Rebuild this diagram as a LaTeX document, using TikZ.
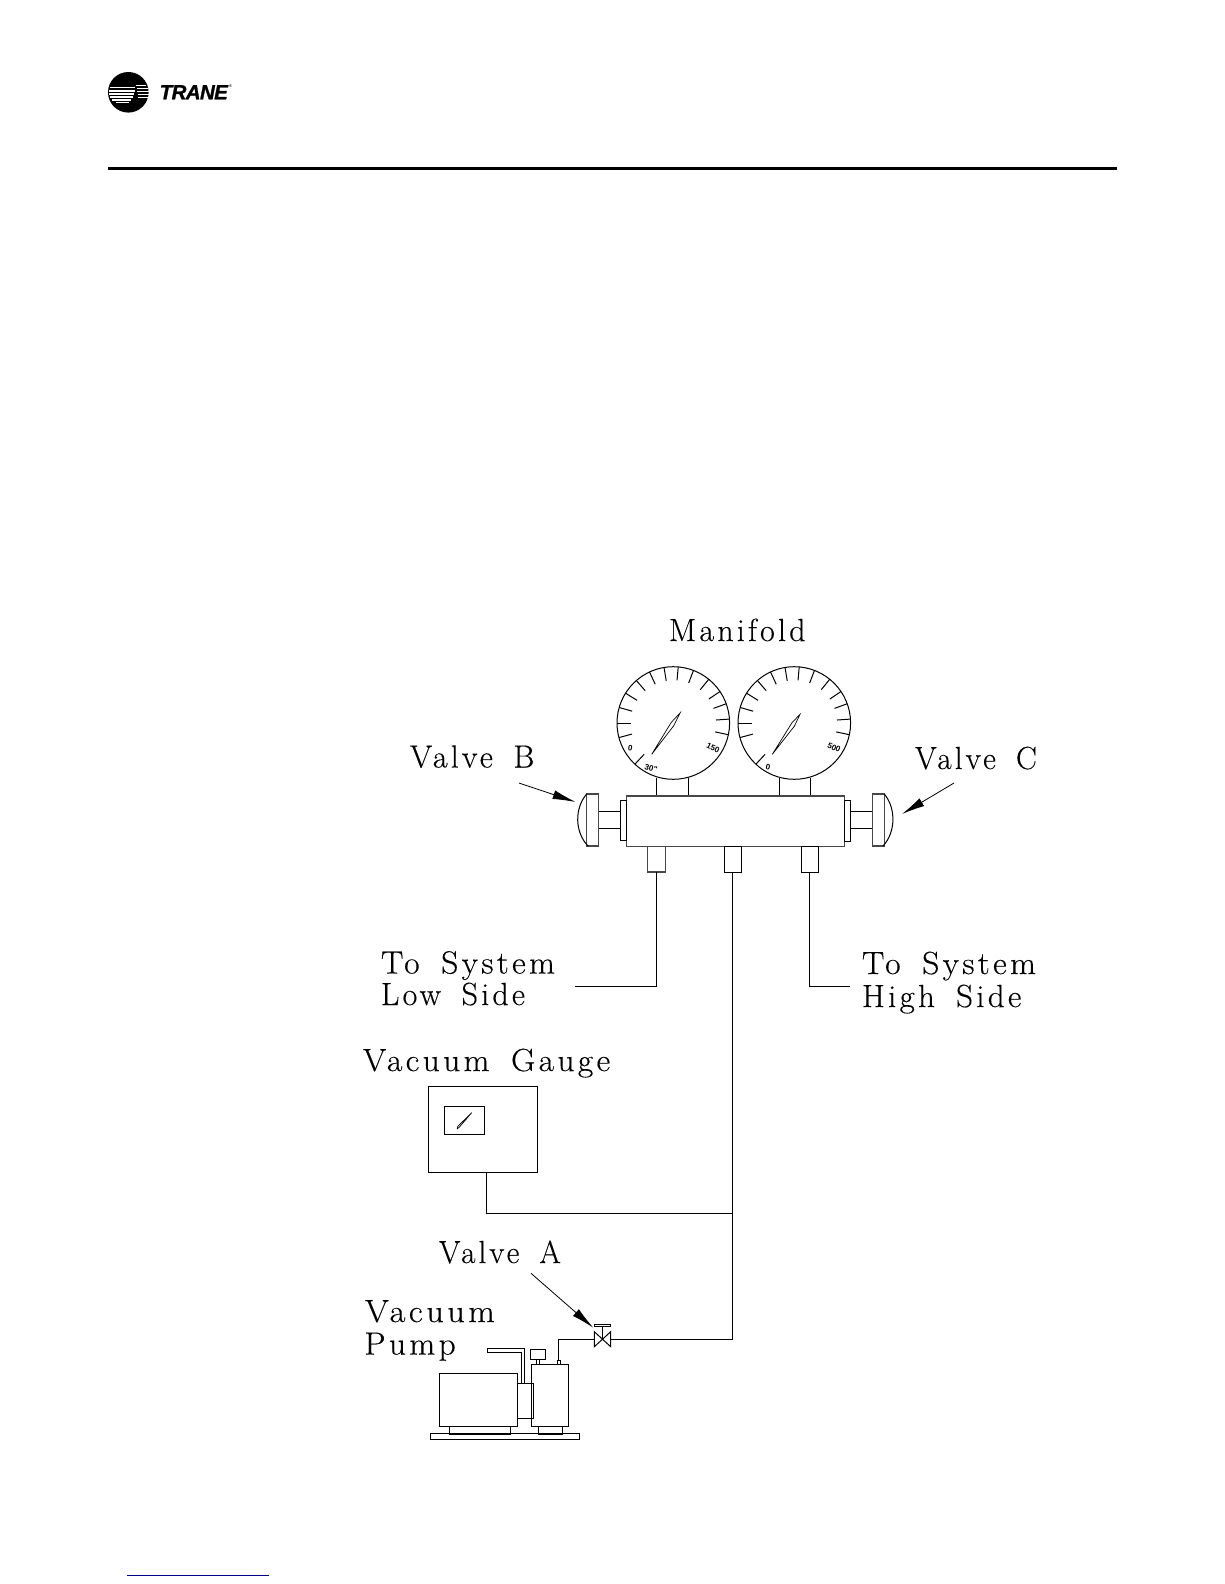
\documentclass[tikz,border=0pt]{standalone}
\usepackage{fontspec}
\newfontfamily\lblfont[LetterSpace=10,WordSpace=1.6,FakeBold=0.25]{Latin Modern Roman}
\newfontfamily\logofont{Liberation Sans}
\usetikzlibrary{arrows.meta,calc}
\tikzset{
  ln/.style={line width=1pt,black},
  gr/.style={line width=1.5pt,black!72},
  lbl/.style={anchor=base west,inner sep=0pt,outer sep=0pt,font=\fontsize{32}{32}\selectfont\lblfont},
  dial/.style={font=\fontsize{8}{8}\selectfont\logofont\bfseries,inner sep=0pt},
  pointer/.style={line width=.8pt,-{Latex[length=23pt,width=9pt]}},
}
\newcommand{\gaugeticks}[2]{%
  \foreach \a in {227,195,180,164,148,131,115,99.5,85,69,51,34,20,4,-12}{
    \draw[ln] ($(#1,#2)+(-\a:56.3)$) -- ($(#1,#2)+(-\a:42.8)$);
  }}
\begin{document}
\begin{tikzpicture}[x=1pt,y=-1pt]
\useasboundingbox (0,0) rectangle (1224,1584);
\fill[white] (0,0) rectangle (1224,1584);
% header
\fill[black] (128.3,92.3) circle (20.3);
\foreach \yy/\xa/\xb/\w in {88/110/135/1,91/108.5/135/1.1,94/108.5/134/1.1,97/110/133/1.1,100/112/131/1.1,103/116/129/1}{
  \draw[white,line width=\w pt] (\xa,\yy) -- (\xb,\yy);
}
\foreach \yy/\xa/\xb/\w in {85.5/136/146/.9,88.5/137/148/.9,91.5/137/148.5/.9,94.5/138/148.5/.9,97.5/138/148/.9}{
  \draw[white,line width=\w pt] (\xa,\yy) -- (\xb,\yy);
}
\node (trane) [anchor=base west,inner sep=0pt,font=\fontsize{20.5}{20}\selectfont\logofont\bfseries\itshape] at (159.5,99.3) {\addfontfeature{LetterSpace=-3,FakeBold=1.2}TRANE};
\node (reg) [inner sep=0pt,font=\fontsize{4}{4}\selectfont\logofont] at (230.5,86) {®};
\draw[black,line width=2.8pt] (108,168.7) -- (1117,168.7);
% labels
\node (manifold) [lbl] at (669,641) {Manifold};
\node (valveb) [lbl] at (410,767.5) {Valve B};
\node (valvec) [lbl,xscale=.976] at (915,769) {Valve C};
\node (lowa) [lbl,xscale=1.05] at (381,973.5) {To System};
\node (lowb) [lbl] at (381,1005) {Low Side};
\node (higha) [lbl,xscale=1.05] at (862,974) {To System};
\node (highb) [lbl,xscale=1.03] at (862,1007) {High Side};
\node (vacg) [lbl,xscale=1.047] at (363,1071) {Vacuum Gauge};
\node (valvea) [lbl,xscale=.97] at (439,1263) {Valve A};
\node (vacp1) [lbl,xscale=1.075] at (365,1322) {Vacuum};
\node (vacp2) [lbl,xscale=1.047] at (364.5,1354.5) {Pump};
% gauges
\draw[ln] (673.3,723) circle (56.3);
\draw[ln] (794.3,723) circle (56.3);
\gaugeticks{673.3}{723}
\gaugeticks{794.3}{723}
\draw[ln,line width=.7pt] (651.7,754.3) -- (671.3,722.3) -- (680,713) -- (673.8,725.6) -- cycle;
\draw[ln,line width=.7pt] (772.3,754.3) -- (792,722.7) -- (800,714.3) -- (794.5,726) -- cycle;
\node (d0a) [dial,rotate=-10] at (630.3,748) {0};
\node (d30) [dial,rotate=-15] at (651,768) {30"};
\node (d150) [dial,rotate=-25] at (713,748) {150};
\node (d0b) [dial,rotate=-10] at (768,767) {0};
\node (d500) [dial,rotate=-25] at (834,747.5) {500};
% stems
\draw[ln] (656.3,778) -- (656.3,796) (688.3,778) -- (688.3,796) (779.3,778) -- (779.3,796) (810.3,778) -- (810.3,796);
% manifold body
\draw[gr] (626.3,796) rectangle (844.3,846.7);
% left valve
\draw[ln] (620.3,800.3) rectangle (626.3,840.7);
\draw[ln] (598.3,811.3) rectangle (620.3,828.7);
\draw[gr] (586.7,794) rectangle (598.3,846);
\draw[ln] (586.7,794) .. controls (574.5,808) and (574.5,832) .. (588,846);
% right valve
\draw[ln] (844.3,800.3) rectangle (850.3,841);
\draw[ln] (850.3,811.3) rectangle (872.7,828.7);
\draw[gr] (872.7,794) rectangle (884.3,846);
\draw[ln] (884.3,794) .. controls (896,808) and (896,832) .. (883,846);
% ports
\draw[gr] (647.7,846.7) rectangle (665.7,872);
\draw[ln] (724.3,846.7) rectangle (741.7,872);
\draw[ln] (801.3,846.7) rectangle (818.7,872);
\coordinate (lowend) at (574.6,986.7);
\coordinate (highend) at (850,986.7);
\draw[ln] (656.3,872) -- (656.3,986.7) -- (lowend);
\draw[ln] (809.3,872) -- (809.3,986.7) -- (highend);
\draw[ln] (732.3,872) -- (732.3,1339) -- (610.7,1339);
% vacuum gauge
\draw[ln] (428.3,1086.3) rectangle (537.3,1172.3);
\draw[ln] (444.3,1106.3) rectangle (484.7,1134.7);
\draw[ln,line width=.7pt] (457.3,1128.7) -- (459,1127.5) -- (471.7,1112.7) -- (457.8,1126.3) -- cycle;
\draw[ln] (486.3,1172.3) -- (486.3,1213.3) -- (732.3,1213.3);
% valve A
\draw[ln] (594.3,1331.7) -- (610.7,1346.7) -- (610.7,1331.7) -- (594.3,1346.7) -- cycle;
\draw[ln] (602.5,1339) -- (602.5,1326.7);
\draw[ln] (594.3,1324.3) rectangle (610.7,1326.7);
\draw[ln] (594.3,1339) -- (558.3,1339) -- (558.3,1360.7);
\draw[ln] (557,1360.7) rectangle (560.3,1364.3);
% pump
\draw[ln] (531.3,1364.3) rectangle (568.7,1426.3);
\draw[ln] (439.3,1373.3) rectangle (517.3,1426.3);
\draw[ln] (517.3,1383.3) -- (533.7,1383.3) -- (533.7,1418.3) -- (517.3,1418.3);
\draw[ln] (449.3,1426.3) rectangle (510.3,1434);
\draw[ln] (538.3,1426.3) rectangle (562.3,1434);
\draw[ln] (430.7,1433.3) rectangle (579.3,1439.3);
\draw[ln] (521.3,1383.3) -- (521.3,1352.3) -- (487.3,1352.3) -- (487.3,1348.3) -- (524.7,1348.3) -- (524.7,1383.3);
\draw[ln] (530.3,1349.3) rectangle (545.7,1359.3);
\draw[ln] (536,1359.3) -- (536,1364.3) (539.7,1359.3) -- (539.7,1364.3);
% pointers
\coordinate (pbs) at (519,783);
\coordinate (pbe) at (575.6,802);
\coordinate (pcs) at (954,783);
\coordinate (pce) at (902,814);
\coordinate (pas) at (531,1273.3);
\coordinate (pae) at (593.3,1327.7);
\draw[pointer] (pbs) -- (pbe);
\draw[pointer] (pcs) -- (pce);
\draw[pointer] (pas) -- (pae);
% footer rule
\draw[color={rgb,255:red,0;green,0;blue,140},line width=1pt] (127,1575) -- (269,1575);
\end{tikzpicture}
\end{document}
